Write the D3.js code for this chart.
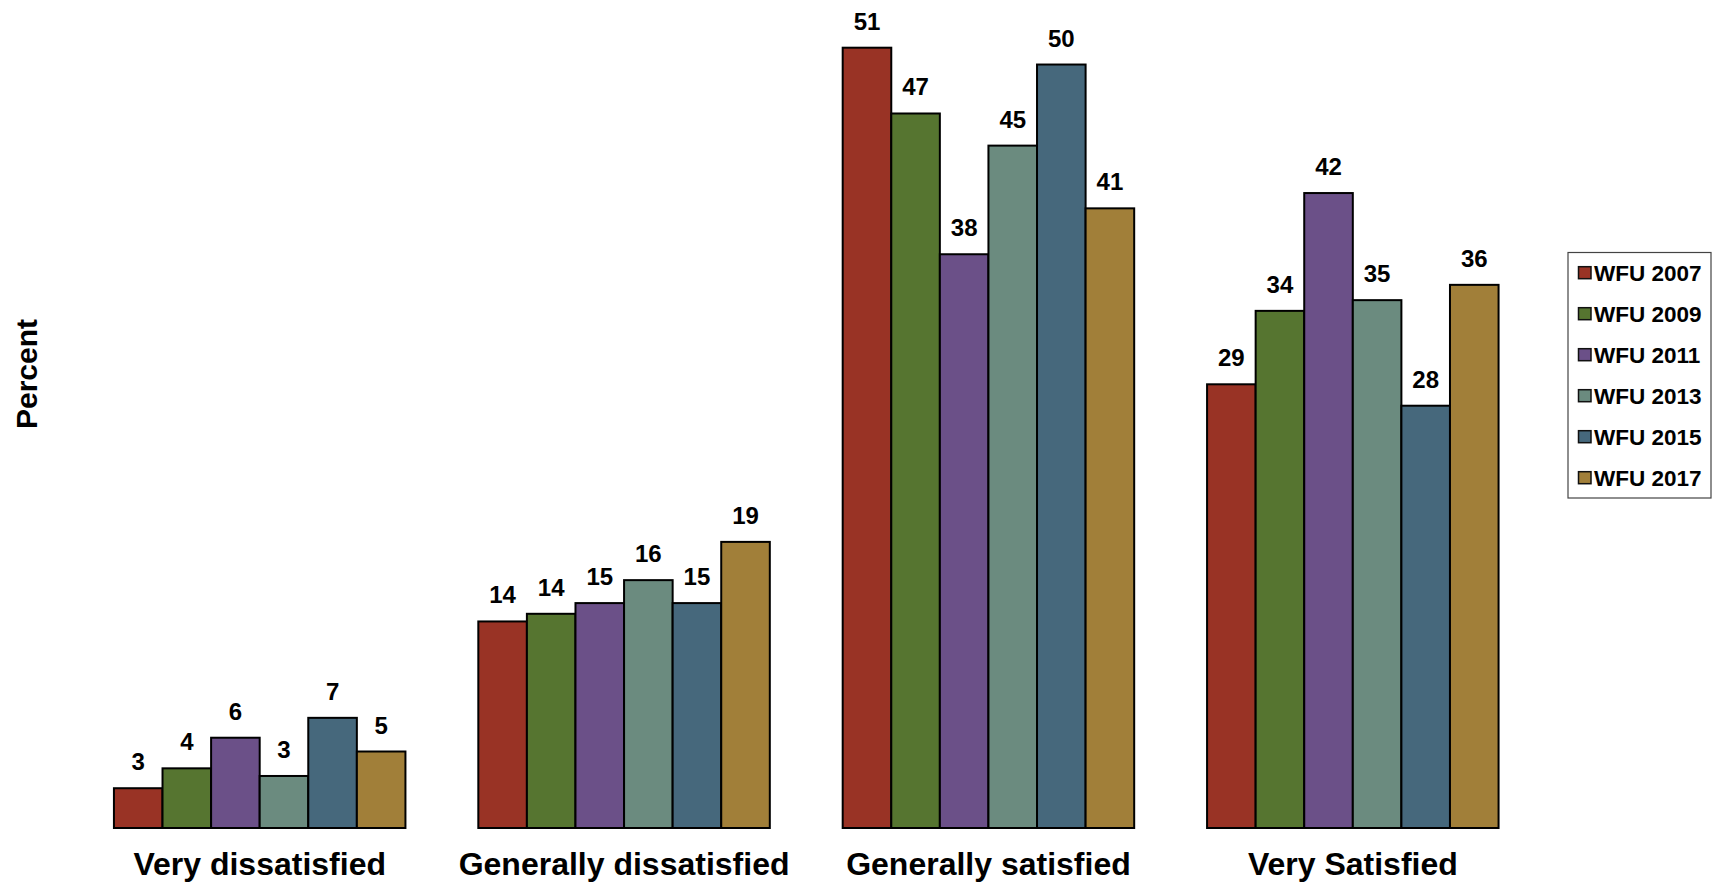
<!DOCTYPE html>
<html>
<head>
<meta charset="utf-8">
<script src="https://cdn.jsdelivr.net/npm/d3@7"></script>
<style>
  html, body { margin: 0; padding: 0; background: #fff; }
  svg { display: block; }
  text { font-family: "Liberation Sans", Arial, sans-serif; font-weight: bold; fill: #000; }
</style>
</head>
<body>
<svg id="chart" width="1714" height="887"></svg>
<script>
const categories = ["Very dissatisfied", "Generally dissatisfied", "Generally satisfied", "Very Satisfied"];
const seriesNames = ["WFU 2007", "WFU 2009", "WFU 2011", "WFU 2013", "WFU 2015", "WFU 2017"];
const wfu2007 = [2.6, 13.5, 51.0, 29.0];
const wfu2009 = [3.9, 14.0, 46.7, 33.8];
const wfu2011 = [5.9, 14.7, 37.5, 41.5];
const wfu2013 = [3.4, 16.2, 44.6, 34.5];
const wfu2015 = [7.2, 14.7, 49.9, 27.6];
const wfu2017 = [5.0, 18.7, 40.5, 35.5];
const seriesValues = [wfu2007, wfu2009, wfu2011, wfu2013, wfu2015, wfu2017];
const colors = ["#993325", "#567530", "#6B5088", "#6B8B7F", "#46687C", "#A17F39"];
const yAxisTitle = "Percent";

const svg = d3.select("#chart");

const x0 = d3.scaleBand().domain(categories).range([77.5, 1535]).paddingInner(0.2).paddingOuter(0.1);
const x1 = d3.scaleBand().domain(seriesNames).range([0, x0.bandwidth()]).padding(0);
const y = d3.scaleLinear().domain([0, 51]).range([828, 47.7]);
const color = d3.scaleOrdinal().domain(seriesNames).range(colors);

const data = [];
categories.forEach((c, i) => {
  seriesNames.forEach((s, j) => {
    data.push({ cat: c, series: s, value: seriesValues[j][i] });
  });
});

const g = svg.append("g");

g.selectAll("rect.bar").data(data).join("rect")
  .attr("class", "bar")
  .attr("x", d => x0(d.cat) + x1(d.series))
  .attr("y", d => y(d.value))
  .attr("width", x1.bandwidth())
  .attr("height", d => y(0) - y(d.value))
  .attr("fill", d => color(d.series))
  .attr("stroke", "#000")
  .attr("stroke-width", 2);

g.selectAll("text.val").data(data).join("text")
  .attr("class", "val")
  .attr("x", d => x0(d.cat) + x1(d.series) + x1.bandwidth() / 2)
  .attr("y", d => y(d.value) - 18)
  .attr("text-anchor", "middle")
  .style("font-size", "24px")
  .text(d => Math.round(d.value));

// category axis labels
const xAxis = d3.axisBottom(x0).tickSize(0).tickPadding(0);
const xa = svg.append("g").attr("transform", `translate(0,${y(0)})`).call(xAxis);
xa.select(".domain").remove();
xa.selectAll("text")
  .attr("dy", null)
  .attr("y", 47)
  .style("font-size", "32px")
  .style("font-family", "'Liberation Sans', Arial, sans-serif")
  .style("font-weight", "bold")
  .attr("fill", "#000");

// y axis title
svg.append("text")
  .attr("transform", `translate(37,374) rotate(-90)`)
  .attr("text-anchor", "middle")
  .style("font-size", "30px")
  .text(yAxisTitle);

// legend
const legend = svg.append("g");
legend.append("rect")
  .attr("x", 1568).attr("y", 252.5)
  .attr("width", 143).attr("height", 245.5)
  .attr("fill", "#fff").attr("stroke", "#444").attr("stroke-width", 1.2);

const ly = d3.scalePoint().domain(seriesNames).range([272.7, 477.7]);
const items = legend.selectAll("g.item").data(seriesNames).join("g")
  .attr("class", "item")
  .attr("transform", d => `translate(0,${ly(d)})`);
items.append("rect")
  .attr("x", 1578.5).attr("y", -6)
  .attr("width", 12.5).attr("height", 12)
  .attr("fill", d => color(d))
  .attr("stroke", "#111").attr("stroke-width", 1.5);
items.append("text")
  .attr("x", 1594).attr("y", 8)
  .style("font-size", "22.5px")
  .text(d => d);
</script>
</body>
</html>
